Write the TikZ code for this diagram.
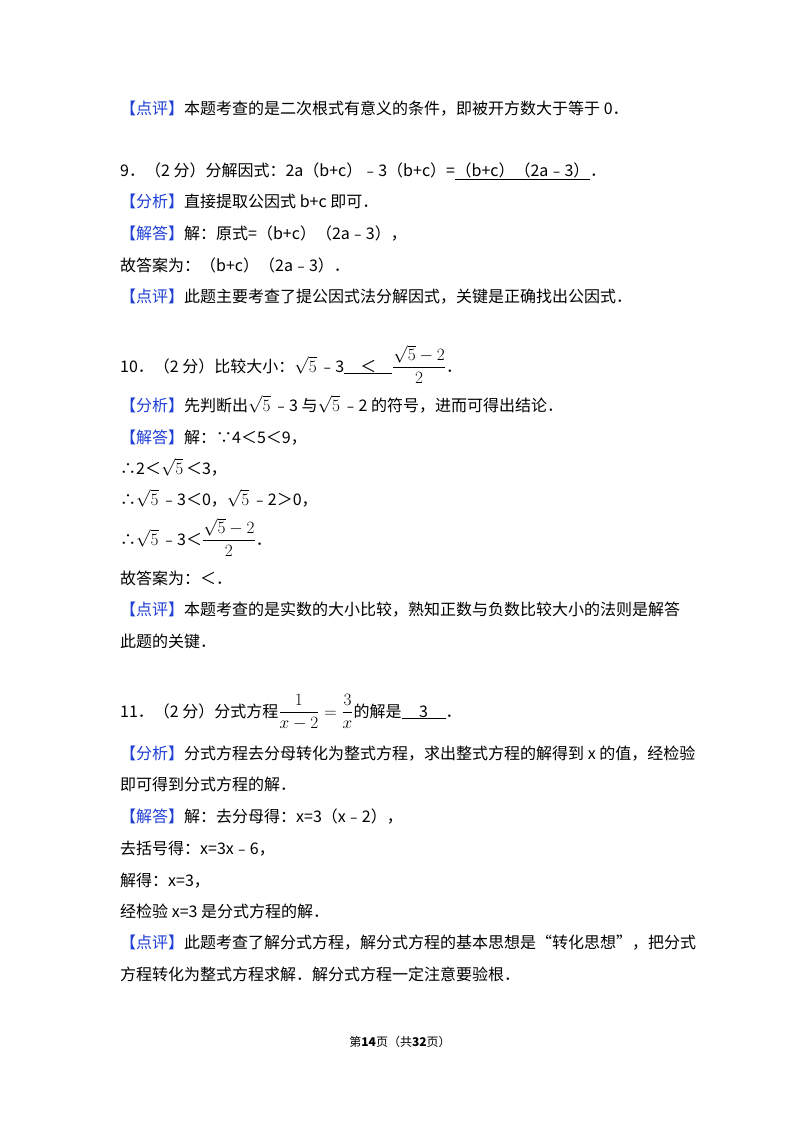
\documentclass[tikz,border=0pt]{standalone}
\usepackage{fontspec}
\setmainfont{Noto Sans CJK SC}
\definecolor{tagblue}{HTML}{1F3FD6}
\newcommand{\tg}[1]{\textcolor{tagblue}{【#1】}}
\newcommand{\blk}[2]{\underline{\makebox[#1]{#2}}}
\newcommand{\rf}{$\sqrt{5}$\,}
\newcommand{\fr}{$\displaystyle\frac{\sqrt{5}-2}{2}$}
\begin{document}
\begin{tikzpicture}[x=1pt,y=-1pt,
  ln/.style={anchor=base west,inner sep=0pt,font=\fontsize{16}{20}\selectfont}]
\useasboundingbox[fill=white] (0,0) rectangle (800,1132);
\node[ln] (a1) at (120,114) {\tg{点评}本题考查的是二次根式有意义的条件，即被开方数大于等于 0．};
\node[ln] (a2) at (120,176) {9．（2 分）分解因式：2a（b+c）﹣3（b+c）=\blk{135pt}{（b+c）（2a﹣3）}．};
\node[ln] (a3) at (120,207) {\tg{分析}直接提取公因式 b+c 即可．};
\node[ln] (a4) at (120,239) {\tg{解答}解：原式=（b+c）（2a﹣3），};
\node[ln] (a5) at (120,271) {故答案为：（b+c）（2a﹣3）．};
\node[ln] (a6) at (120,302) {\tg{点评}此题主要考查了提公因式法分解因式，关键是正确找出公因式．};
\node[ln] (b1) at (120,372) {10．（2 分）比较大小：\rf﹣3\blk{48pt}{＜}\fr．};
\node[ln] (b2) at (120,411) {\tg{分析}先判断出\rf﹣3 与\rf﹣2 的符号，进而可得出结论．};
\node[ln] (b3) at (120,443) {\tg{解答}解：∵4＜5＜9，};
\node[ln] (b4) at (120,474) {∴2＜\rf＜3，};
\node[ln] (b5) at (120,505) {∴\rf﹣3＜0，\rf﹣2＞0，};
\node[ln] (b6) at (120,545) {∴\rf﹣3＜\fr．};
\node[ln] (b7) at (120,584) {故答案为：＜．};
\node[ln] (b8) at (120,615) {\tg{点评}本题考查的是实数的大小比较，熟知正数与负数比较大小的法则是解答};
\node[ln] (b9) at (120,647) {此题的关键．};
\node[ln] (c1) at (120,717) {11．（2 分）分式方程$\displaystyle\frac{1}{x-2}=\frac{3}{x}$的解是\blk{44pt}{3}．};
\node[ln] (c2) at (120,759) {\tg{分析}分式方程去分母转化为整式方程，求出整式方程的解得到 x 的值，经检验};
\node[ln] (c3) at (120,790) {即可得到分式方程的解．};
\node[ln] (c4) at (120,822) {\tg{解答}解：去分母得：x=3（x﹣2），};
\node[ln] (c5) at (120,854) {去括号得：x=3x﹣6，};
\node[ln] (c6) at (120,886) {解得：x=3，};
\node[ln] (c7) at (120,917) {经检验 x=3 是分式方程的解．};
\node[ln] (c8) at (120,948) {\tg{点评}此题考查了解分式方程，解分式方程的基本思想是“转化思想”，把分式};
\node[ln] (c9) at (120,980) {方程转化为整式方程求解．解分式方程一定注意要验根．};
\node[anchor=base,inner sep=0pt,font=\fontsize{12}{14}\selectfont] (pg) at (400,1046) {第\textbf{14}页（共\textbf{32}页）};
\end{tikzpicture}
\end{document}
